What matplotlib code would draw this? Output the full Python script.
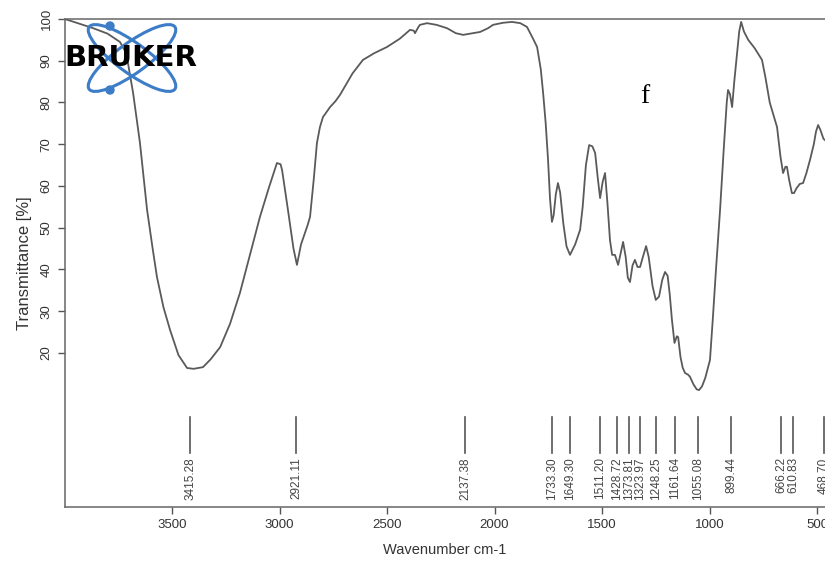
import matplotlib
matplotlib.use("Agg")
import matplotlib.pyplot as plt
from matplotlib.patches import Ellipse, Circle
import numpy as np

plt.rcParams['font.family'] = ['Liberation Sans', 'DejaVu Sans']

# spectrum (wavenumber cm-1, transmittance %)
wavenumber = [4000, 3974, 3867, 3800, 3742, 3715, 3705, 3681, 3649, 3616, 3590, 3570,
              3540, 3509, 3470, 3430, 3400, 3356, 3320, 3276, 3230, 3184, 3140, 3091,
              3050, 3012, 2995, 2988, 2960, 2935, 2919, 2900, 2870, 2858, 2840, 2826,
              2812, 2798, 2765, 2740, 2719, 2660, 2612, 2560, 2500, 2440, 2393, 2375,
              2370, 2355, 2347, 2314, 2270, 2221, 2180, 2146, 2100, 2067, 2030, 2007,
              1960, 1919, 1880, 1849, 1821, 1802, 1785, 1774, 1762, 1751, 1742, 1733,
              1725, 1715, 1705, 1695, 1680, 1665, 1649, 1625, 1602, 1590, 1575, 1560,
              1545, 1532, 1520, 1509, 1497, 1486, 1475, 1463, 1453, 1440, 1425, 1413,
              1402, 1390, 1380, 1370, 1358, 1347, 1335, 1323, 1310, 1295, 1283, 1265,
              1250, 1235, 1220, 1207, 1195, 1185, 1175, 1163, 1152, 1146, 1135, 1125,
              1114, 1100, 1091, 1075, 1060, 1049, 1035, 1020, 998, 985, 970, 951,
              935, 920, 914, 905, 895, 885, 872, 862, 853, 840, 820, 790,
              779, 756, 740, 720, 700, 686, 670, 658, 647, 640, 630, 617,
              607, 595, 580, 565, 550, 533, 515, 505, 495, 485, 470, 463]
transmittance = [100, 99.6, 97.8, 96.5, 94.5, 92, 89.5, 82.3, 70.3, 54.3, 45, 38.2,
                 31, 25.5, 19.5, 16.4, 16.2, 16.6, 18.5, 21.4, 27, 34.4, 43, 52.6,
                 59.5, 65.5, 65.2, 63.8, 54, 45, 41.1, 46, 50.5, 52.6, 62, 70.3,
                 74.1, 76.5, 78.9, 80.3, 81.8, 87, 90.2, 91.8, 93.3, 95.3, 97.4, 97.2,
                 96.6, 98.0, 98.6, 99.0, 98.6, 97.8, 96.6, 96.2, 96.6, 96.9, 97.8, 98.6,
                 99.1, 99.3, 99.0, 98.1, 95.3, 93.3, 88, 82.3, 75, 66.2, 57, 51.4,
                 53, 58, 60.7, 58.5, 51, 45.5, 43.5, 46, 49.5, 55, 65, 69.8,
                 69.5, 67.9, 62, 57.1, 61, 63.1, 56, 47, 43.5, 43.5, 41.1, 44,
                 46.6, 43, 38, 37.0, 41, 42.3, 40.6, 40.6, 43, 45.6, 43, 36,
                 32.7, 33.5, 37.5, 39.4, 38.5, 34, 28, 22.4, 24.0, 23.8, 19, 16.5,
                 15.2, 14.8, 14.3, 12.5, 11.3, 11.1, 12, 14, 18.3, 28, 40, 54.3,
                 68, 80, 83.0, 82, 78.9, 85, 91.9, 97, 99.3, 97, 95, 93,
                 92.1, 90.2, 86, 80, 76.5, 74.1, 67, 63.1, 64.6, 64.6, 61.5, 58.3,
                 58.3, 59.5, 60.5, 60.7, 63, 66.2, 70, 73, 74.6, 73.5, 71.3, 71]

peaks = [3415.28, 2921.11, 2137.38, 1733.30, 1649.30, 1511.20, 1428.72, 1373.81,
         1323.97, 1248.25, 1161.64, 1055.08, 899.44, 666.22, 610.83, 468.70]

xticks = [3500, 3000, 2500, 2000, 1500, 1000, 500]
yticks = [20, 30, 40, 50, 60, 70, 80, 90, 100]

fig = plt.figure(figsize=(8.25, 5.67), dpi=100)
ax = fig.add_axes([64.5/825, 1-507/567, 1-64.5/825, (507-19)/567])

ax.plot(wavenumber, transmittance, color='#5a5a5a', lw=1.3, solid_joinstyle='round')
for p in peaks:
    ax.plot([p, p], [4.7, -4.0], color='#555555', lw=1.2)
    ax.text(p, -5.0, '%.2f' % p, rotation=90, ha='center', va='top',
            fontsize=8.5, color='#444444')

ax.set_xlim(4000, 463)
ax.set_ylim(-16.9, 100)
ax.set_xticks(xticks)
ax.set_yticks(yticks)
ax.set_yticklabels([str(v) for v in yticks], rotation=90, va='center')
ax.tick_params(direction='out', length=5, width=1, colors='#555555',
               labelcolor='#333333', labelsize=9.5)
for s in ['left', 'bottom', 'top']:
    ax.spines[s].set_color('#666666')
    ax.spines[s].set_linewidth(1.1)
ax.spines['right'].set_visible(False)
ax.set_xlabel('Wavenumber cm-1', fontsize=10.5, color='#333333', labelpad=9)
ax.set_ylabel('Transmittance [%]', fontsize=12, color='#333333', labelpad=6)

ax.text(1300, 81.5, 'f', fontsize=20, family='Liberation Serif',
        ha='center', va='center', color='black')

# Bruker logo drawn in pixel space
ov = fig.add_axes([0, 0, 1, 1], zorder=5)
ov.set_xlim(0, 825)
ov.set_ylim(567, 0)
ov.axis('off')
ov.patch.set_alpha(0)
blue = '#3d7cc6'
for ang in [36, -36]:
    ov.add_patch(Ellipse((132, 58), 106, 30, angle=ang, fill=False,
                         edgecolor=blue, lw=2.2))
ov.add_patch(Circle((110, 26), 4, color=blue))
ov.add_patch(Circle((110, 90), 4, color=blue))
ov.text(131, 58, 'BRUKER', fontsize=21, fontweight='heavy', family='DejaVu Sans',
        ha='center', va='center', color='black')

fig.savefig('out.png', dpi=100)
